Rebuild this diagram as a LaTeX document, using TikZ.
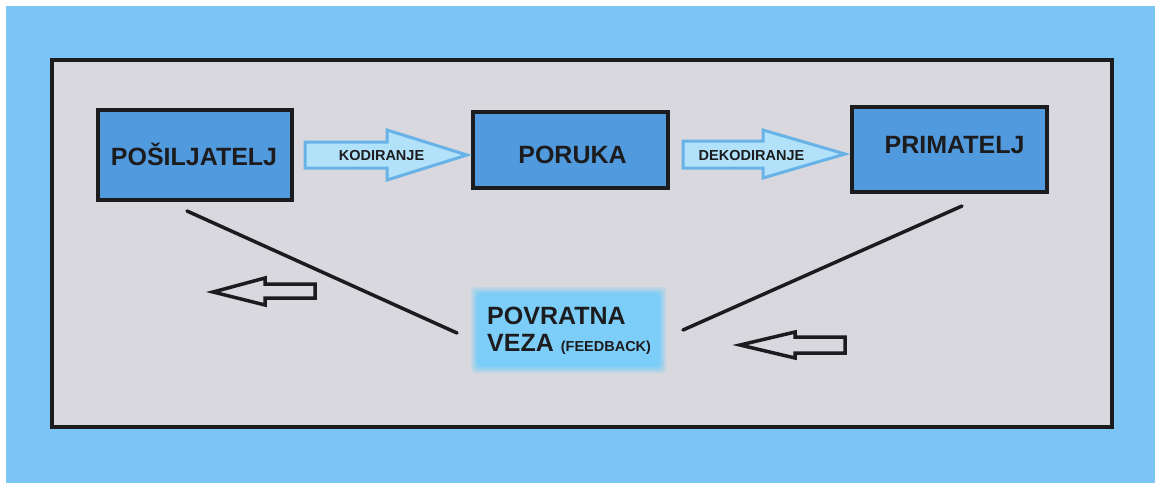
\documentclass[tikz,border=0pt]{standalone}
\usepackage{fontspec}
\setmainfont{Liberation Sans}
\definecolor{outerblue}{RGB}{124,196,245}
\definecolor{panelgray}{RGB}{216,216,222}
\definecolor{boxblue}{RGB}{82,154,222}
\definecolor{arrowfill}{RGB}{178,226,250}
\definecolor{arrowline}{RGB}{104,178,232}
\definecolor{fbblue}{RGB}{124,206,248}
\definecolor{ink}{RGB}{28,28,30}
\begin{document}
\begin{tikzpicture}[x=1pt,y=-1pt,
  mainbox/.style={draw=ink,line width=4pt,fill=boxblue},
  bigtext/.style={font=\bfseries\fontsize{25}{27}\selectfont,text=ink,inner sep=0pt},
  smalltext/.style={font=\bfseries\fontsize{14.5}{16}\selectfont,text=ink,inner sep=0pt},
  blockarrow/.style={draw=arrowline,line width=3pt,fill=arrowfill,line join=miter},
  hollowarrow/.style={draw=ink,line width=3.5pt,fill=panelgray,line join=miter},
  feedline/.style={draw=ink,line width=3.5pt,line cap=round}]
\useasboundingbox (0,0) rectangle (1155,483);
% background
\fill[white] (0,0) rectangle (1155,483);
\fill[outerblue] (6,6) rectangle (1155,483);
\draw[ink,line width=4pt,fill=panelgray] (52,60) rectangle (1112,427);
% boxes
\draw[mainbox] (98,110) rectangle (292,200);
\node[bigtext,anchor=base] (po) at (194,165) {POŠILJATELJ};
\draw[mainbox] (473,112) rectangle (668,188);
\node[bigtext,anchor=base] (por) at (572.5,163) {PORUKA};
\draw[mainbox] (852,107) rectangle (1047,192);
\node[bigtext,anchor=base] (pri) at (954.5,153) {PRIMATELJ};
% block arrows
\draw[blockarrow] (305,142) -- (387,142) -- (387,130) -- (467,155) -- (387,180) -- (387,168) -- (305,168) -- cycle;
\node[smalltext,anchor=base] (kod) at (381.5,160) {KODIRANJE};
\draw[blockarrow] (683,141) -- (763,141) -- (763,130) -- (845,154) -- (763,178) -- (763,168) -- (683,168) -- cycle;
\node[smalltext,anchor=base] (dek) at (751.5,160) {DEKODIRANJE};
% feedback box (soft edges)
\foreach \d/\o in {6/0.25,4/0.35,2/0.5,0/1}{
  \fill[fbblue,opacity=\o,rounded corners=4pt] (477-\d,293-\d) rectangle (660+\d,367+\d);
}
\node[bigtext,anchor=base west,align=left] (fb1) at (487,324) {POVRATNA};
\node[bigtext,anchor=base west,align=left] (fb2) at (487,351) {VEZA \fontsize{14.5}{16}\selectfont(FEEDBACK)};
% lines
\coordinate (l1a) at (187,211);
\coordinate (l1b) at (457,333);
\coordinate (l2a) at (962,206);
\coordinate (l2b) at (683,330);
\draw[feedline] (l1a) -- (l1b);
\draw[feedline] (l2a) -- (l2b);
% hollow arrows
\draw[hollowarrow] (315,284) -- (265,284) -- (265,278) -- (213,292) -- (265,305) -- (265,298) -- (315,298) -- cycle;
\draw[hollowarrow] (845,337) -- (795,337) -- (795,332) -- (740,345) -- (795,358) -- (795,353) -- (845,353) -- cycle;
\end{tikzpicture}
\end{document}
